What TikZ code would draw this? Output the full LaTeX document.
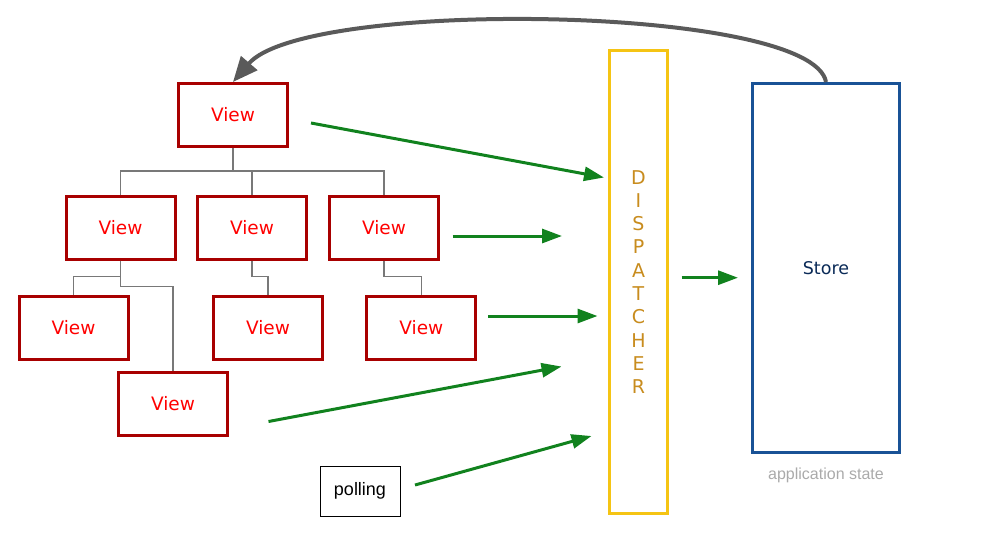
\documentclass[tikz,border=0pt]{standalone}
\usepackage{fontspec}
\newfontfamily\viewfont{DejaVu Sans}
\newfontfamily\arialfont{Liberation Sans}
\usetikzlibrary{arrows.meta}
\definecolor{viewborder}{RGB}{168,0,0}
\definecolor{viewtext}{RGB}{255,0,0}
\definecolor{dispborder}{RGB}{245,196,20}
\definecolor{disptext}{RGB}{200,140,30}
\definecolor{storeborder}{RGB}{25,82,150}
\definecolor{storetext}{RGB}{10,42,87}
\definecolor{flowgreen}{RGB}{17,130,30}
\definecolor{treegray}{RGB}{120,120,120}
\definecolor{backgray}{RGB}{90,90,90}
\definecolor{appgray}{RGB}{170,170,170}
\tikzset{
  viewbox/.style={draw=viewborder, line width=3pt, fill=white, minimum width=109pt, minimum height=63pt, inner sep=0pt,
    font=\viewfont\fontsize{18.5}{20}\selectfont, text=viewtext},
  treeline/.style={draw=treegray, line width=1.1pt},
  flow/.style={draw=flowgreen, line width=3pt, -{Triangle[length=20pt,width=14pt]}},
  backflow/.style={draw=backgray, line width=4pt, -{Triangle[length=25pt,width=21pt]}},
}
\begin{document}
\begin{tikzpicture}[x=1pt,y=-1pt]
\useasboundingbox (0,0) rectangle (1000,550);
% views
\node[viewbox] (v0) at (233,115) {View};
\node[viewbox] (v1) at (120.5,227.5) {View};
\node[viewbox] (v2) at (252,227.5) {View};
\node[viewbox] (v3) at (384,227.5) {View};
\node[viewbox] (v4) at (73.5,327.5) {View};
\node[viewbox] (v5) at (268,327.5) {View};
\node[viewbox] (v6) at (421.3,327.5) {View};
\node[viewbox] (v7) at (173,404) {View};
% polling
\node[draw=black, line width=1pt, minimum width=80pt, minimum height=50pt, inner sep=0pt,
  font=\arialfont\fontsize{18}{20}\selectfont] (poll) at (360,491) {polling};
% dispatcher
\node[draw=dispborder, line width=3pt, minimum width=58pt, minimum height=463pt, inner sep=0pt] (disp) at (638.5,282) {};
\node[text=disptext, font=\viewfont\fontsize{19}{23.3}\selectfont, align=center, inner sep=0pt] (disptxt) at (disp.center)
  {D\\I\\S\\P\\A\\T\\C\\H\\E\\R};
% store
\node[draw=storeborder, line width=3pt, minimum width=147pt, minimum height=369pt, inner sep=0pt,
  text=storetext, font=\viewfont\fontsize{17.5}{20}\selectfont] (store) at (826,268) {Store};
\node[text=appgray, font=\arialfont\fontsize{16}{18}\selectfont] (appstate) at (826,475) {application state};
% tree
\draw[treeline] (v0.south) -- ++(0,23) -| (v1.north);
\draw[treeline] (v0.south) ++(0,23) -| (v2.north);
\draw[treeline] (v0.south) ++(0,23) -| (v3.north);
\draw[treeline] (v1.south) -- ++(0,16) -| (v4.north);
\draw[treeline] (v1.south) -- ++(0,26) -| (v7.north);
\draw[treeline] (v2.south) -- ++(0,16) -| (v5.north);
\draw[treeline] (v3.south) -- ++(0,16) -| (v6.north);
% flow coordinates
\coordinate (s1) at (311,123);   \coordinate (e1) at (604,177.5);
\coordinate (s2) at (452.5,236); \coordinate (e2) at (562,236);
\coordinate (s3) at (488,316);   \coordinate (e3) at (597.5,316);
\coordinate (s4) at (268.5,421.5); \coordinate (e4) at (561.5,366.5);
\coordinate (s5) at (415,485);   \coordinate (e5) at (591.5,436);
\coordinate (s6) at (681.5,277.7); \coordinate (e6) at (738,277.7);
\draw[flow] (s1) -- (e1);
\draw[flow] (s2) -- (e2);
\draw[flow] (s3) -- (e3);
\draw[flow] (s4) -- (e4);
\draw[flow] (s5) -- (e5);
\draw[flow] (s6) -- (e6);
% back arrow
\draw[backflow] (store.north) .. controls (812,5) and (305,-2) .. (v0.north);
\end{tikzpicture}
\end{document}
